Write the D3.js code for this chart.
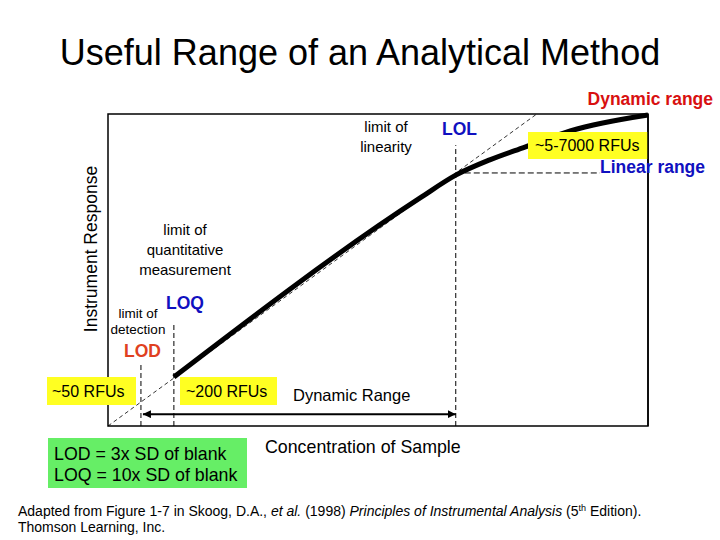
<!DOCTYPE html>
<html>
<head>
<meta charset="utf-8">
<script src="https://cdn.jsdelivr.net/npm/d3@7"></script>
<style>
  body { margin: 0; background: #fff; }
  svg { display: block; font-family: "Liberation Sans", Arial, sans-serif; }
</style>
</head>
<body>
<script>
// concentration (x) and instrument response (y), both in arbitrary 0-100 units
const curveConc = [12.2, 57.8, 64.4, 70.7, 77.2, 85.6, 100];
const curveResp = [15.7, 73.1, 80.4, 85.3, 89.4, 94.6, 99.7];
const linearConc = [0, 79.4];
const linearResp = [0, 100];
const limitNames = ["LOD", "LOQ", "LOL"];
const limitConc = [6.1, 12.2, 64.4];
const limitTop = [19.6, 33, 90];
const rfuLabels = ["~50 RFUs", "~200 RFUs", "~5-7000 RFUs"];

const width = 720, height = 540;
const plot = {left: 108, right: 648, top: 114, bottom: 426};

const svg = d3.select("body").append("svg")
  .attr("width", width)
  .attr("height", height);

const xScale = d3.scaleLinear().domain([0, 100]).range([plot.left, plot.right]);
const yScale = d3.scaleLinear().domain([0, 100]).range([plot.bottom, plot.top]);

svg.append("text")
  .attr("x", 360).attr("y", 65)
  .attr("text-anchor", "middle")
  .attr("font-size", 36)
  .text("Useful Range of an Analytical Method");

// plot frame
svg.append("rect")
  .attr("x", plot.left).attr("y", plot.top)
  .attr("width", plot.right - plot.left)
  .attr("height", plot.bottom - plot.top)
  .attr("fill", "none")
  .attr("stroke", "#000")
  .attr("stroke-width", 1.5);

// extrapolated linear response
svg.append("line")
  .attr("x1", xScale(linearConc[0])).attr("y1", yScale(linearResp[0]))
  .attr("x2", xScale(linearConc[1])).attr("y2", yScale(linearResp[1]))
  .attr("stroke", "#000")
  .attr("stroke-width", 0.8)
  .attr("stroke-dasharray", "4,3");

// vertical limit markers
svg.append("g").selectAll("line")
  .data(limitConc)
  .enter()
  .append("line")
  .attr("x1", (d) => xScale(d)).attr("x2", (d) => xScale(d))
  .attr("y1", yScale(0))
  .attr("y2", (d, i) => yScale(limitTop[i]))
  .attr("stroke", "#000")
  .attr("stroke-width", 1)
  .attr("stroke-dasharray", "5,3");

// horizontal marker at LOL
const lolResp = 81.1;
svg.append("line")
  .attr("x1", xScale(limitConc[2])).attr("x2", xScale(91.1))
  .attr("y1", yScale(lolResp)).attr("y2", yScale(lolResp))
  .attr("stroke", "#000")
  .attr("stroke-width", 1)
  .attr("stroke-dasharray", "6,3");

// response curve
const line = d3.line()
  .x((d) => xScale(d[0]))
  .y((d) => yScale(d[1]))
  .curve(d3.curveMonotoneX);

svg.append("path")
  .datum(d3.zip(curveConc, curveResp))
  .attr("d", line)
  .attr("fill", "none")
  .attr("stroke", "#000")
  .attr("stroke-width", 5)
  .attr("stroke-linecap", "butt");

// dynamic range arrow
const defs = svg.append("defs");
["start", "end"].forEach((k) => {
  defs.append("marker")
    .attr("id", "arrow-" + k)
    .attr("viewBox", "0 0 10 10")
    .attr("refX", k === "end" ? 10 : 0).attr("refY", 5)
    .attr("markerWidth", 4).attr("markerHeight", 4)
    .attr("orient", "auto")
    .append("path")
    .attr("d", k === "end" ? "M0,0L10,5L0,10Z" : "M10,0L0,5L10,10Z")
    .attr("fill", "#000");
});
svg.append("line")
  .attr("x1", xScale(limitConc[0]) + 2).attr("x2", xScale(limitConc[2]))
  .attr("y1", yScale(3.8)).attr("y2", yScale(3.8))
  .attr("stroke", "#000")
  .attr("stroke-width", 2)
  .attr("marker-start", "url(#arrow-start)")
  .attr("marker-end", "url(#arrow-end)");

// yellow RFU boxes
const rfuBoxes = [
  {x: 47, y: 377, w: 89, h: 28, tx: 52, ty: 397},
  {x: 180, y: 377, w: 97, h: 28, tx: 186, ty: 397},
  {x: 528, y: 132, w: 120, h: 27, tx: 535, ty: 151}
];
rfuBoxes.forEach((b, i) => {
  svg.append("rect")
    .attr("x", b.x).attr("y", b.y)
    .attr("width", b.w).attr("height", b.h)
    .attr("fill", "#ffff22");
  svg.append("text")
    .attr("x", b.tx).attr("y", b.ty)
    .attr("font-size", 16)
    .text(rfuLabels[i]);
});

// right frame edge sits over the yellow box
svg.append("line")
  .attr("x1", plot.right).attr("x2", plot.right)
  .attr("y1", plot.top).attr("y2", plot.bottom)
  .attr("stroke", "#000").attr("stroke-width", 1.5);

function label(x, y, txt, opts) {
  const o = opts || {};
  return svg.append("text")
    .attr("x", x).attr("y", y)
    .attr("font-size", o.size || 15)
    .attr("font-weight", o.bold ? "bold" : null)
    .attr("fill", o.fill || "#000")
    .attr("text-anchor", o.anchor || "start")
    .text(txt);
}

const blue = "#1010c0", red = "#d81010", orange = "#e04020";

label(713, 105, "Dynamic range", {size: 17.5, bold: true, fill: red, anchor: "end"});
label(600, 173, "Linear range", {size: 17.5, bold: true, fill: blue});
label(442, 135, limitNames[2], {size: 17.5, bold: true, fill: blue});
label(386, 132, "limit of", {anchor: "middle"});
label(386, 152, "linearity", {anchor: "middle"});

label(185, 235, "limit of", {anchor: "middle"});
label(185, 255, "quantitative", {anchor: "middle"});
label(185, 275, "measurement", {anchor: "middle"});
label(166, 309, limitNames[1], {size: 17.5, bold: true, fill: blue});

label(138, 318, "limit of", {size: 13.5, anchor: "middle"});
label(138, 334, "detection", {size: 13.5, anchor: "middle"});
label(124, 357, limitNames[0], {size: 17.5, bold: true, fill: orange});

label(293, 401, "Dynamic Range", {size: 16.5});
label(265, 453, "Concentration of Sample", {size: 17.8});

svg.append("text")
  .attr("transform", "translate(97, 249) rotate(-90)")
  .attr("text-anchor", "middle")
  .attr("font-size", 17.5)
  .text("Instrument Response");

// definitions box
svg.append("rect")
  .attr("x", 48).attr("y", 438)
  .attr("width", 199).attr("height", 50)
  .attr("fill", "#66ee66");
label(54, 460, "LOD = 3x SD of blank", {size: 17.8});
label(54, 481, "LOQ = 10x SD of blank", {size: 17.8});

// source note
const note = svg.append("text")
  .attr("x", 18).attr("y", 516)
  .attr("font-size", 14);
note.append("tspan").text("Adapted from Figure 1-7 in Skoog, D.A., ");
note.append("tspan").attr("font-style", "italic").text("et al.");
note.append("tspan").text(" (1998) ");
note.append("tspan").attr("font-style", "italic").text("Principles of Instrumental Analysis");
note.append("tspan").text(" (5");
note.append("tspan").attr("font-size", 9).attr("dy", -5).text("th");
note.append("tspan").attr("dy", 5).text(" Edition).");
label(18, 532, "Thomson Learning, Inc.", {size: 14});
</script>
</body>
</html>
